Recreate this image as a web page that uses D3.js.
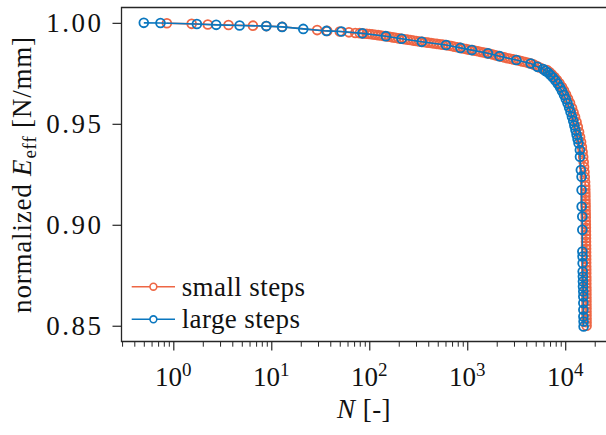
<!DOCTYPE html>
<html><head><meta charset="utf-8">
<script src="https://cdn.jsdelivr.net/npm/d3@7"></script>
<style>
body{margin:0;background:#fff}
svg{display:block;background:#fff}
text{font-family:"Liberation Serif","Times New Roman",serif;fill:#111}
</style>
</head><body>
<svg id="c" width="606" height="435"></svg>
<script>
// ---- data ----
const seriesNames = ["small steps", "large steps"];
const seriesColors = ["#EE6644", "#0A77BF"];
const xTickExps = [0, 1, 2, 3, 4];
const yTicks = [0.85, 0.90, 0.95, 1.00];

const smallN = [
  0.86, 1.54, 2.25, 3.66, 6.5, 8.9, 12.9, 29.4, 37.3, 50, 62, 72, 80, 87, 94,
  100, 107, 115, 123, 132, 141, 151, 162, 174, 186, 200, 214, 229, 245, 263, 282, 302, 324, 347, 372,
  398, 427, 457, 490, 525, 562, 603, 646, 692, 741, 794, 851, 912, 977, 1047, 1122, 1202, 1288, 1380, 1479,
  1585, 1698, 1820, 1950, 2089, 2239, 2399, 2570, 2754, 2951, 3162, 3388, 3631, 3890, 4169, 4467, 4786, 5129, 5495, 5888,
  6510, 6905, 7324, 7771, 8241, 8742, 9273, 9721, 10190, 10683, 11200, 11741, 12162, 12600, 13055, 13460, 13850,
  14180, 14520, 14797, 15040, 15257, 15437, 15583, 15731, 15843, 15956,
  16000, 16030, 16050, 16080, 16100, 16120, 16140, 16160, 16180, 16200, 16210, 16230, 16250, 16260, 16280, 16290,
  16300, 16320, 16330, 16340, 16350, 16360, 16370, 16380, 16390, 16400, 16410, 16420, 16430, 16440, 16450, 16460,
  16470, 16475, 16480, 16490, 16495, 16500, 16510, 16520, 16530
];
const smallE = [
  0.9998, 0.9995, 0.9992, 0.9989, 0.9986, 0.9984, 0.9981, 0.9964, 0.9960, 0.9957, 0.9953, 0.9950, 0.9949, 0.9947, 0.9946,
  0.9945, 0.9943, 0.9941, 0.9939, 0.9937, 0.9935, 0.9933, 0.9931, 0.9928, 0.9926, 0.9923, 0.9921, 0.9919, 0.9917, 0.9915, 0.9912, 0.9910, 0.9908, 0.9906, 0.9904,
  0.9902, 0.9900, 0.9898, 0.9896, 0.9894, 0.9892, 0.9890, 0.9888, 0.9885, 0.9882, 0.9879, 0.9876, 0.9873, 0.9870, 0.9867, 0.9865, 0.9862, 0.9859, 0.9856, 0.9853,
  0.9850, 0.9847, 0.9843, 0.9839, 0.9836, 0.9832, 0.9829, 0.9825, 0.9822, 0.9819, 0.9816, 0.9813, 0.9809, 0.9806, 0.9802, 0.9799, 0.9793, 0.9786, 0.9779, 0.9771,
  0.97661, 0.97562, 0.97448, 0.97315, 0.97166, 0.97003, 0.96820, 0.96647, 0.96449, 0.96246, 0.96029, 0.95781, 0.95559, 0.95336, 0.95084, 0.94841, 0.94594,
  0.94347, 0.94100, 0.93852, 0.93605, 0.93358, 0.93111, 0.92863, 0.92616, 0.92369, 0.92122,
  0.9192, 0.9175, 0.9158, 0.9141, 0.9123, 0.9106, 0.9089, 0.9071, 0.9054, 0.9037, 0.9019, 0.9002, 0.8985, 0.8968, 0.8950, 0.8933,
  0.8916, 0.8898, 0.8881, 0.8864, 0.8846, 0.8829, 0.8812, 0.8794, 0.8777, 0.8760, 0.8742, 0.8725, 0.8708, 0.8690, 0.8673, 0.8656,
  0.8639, 0.8621, 0.8604, 0.8587, 0.8569, 0.8552, 0.8535, 0.8517, 0.8500
];

const largeN = [
  0.5, 0.74, 1.74, 2.74, 4.75, 8.9, 12.9, 21.2, 36.5, 52, 85, 147.6, 214, 343, 608, 852, 1114, 1626, 2138, 3170, 4443, 5200, 5954,
  6283, 6664, 7069, 7499, 7955, 8400, 8845, 9273, 9721, 10142, 10558, 10965, 11332, 11713, 12078, 12396, 12719, 13055, 13366, 13686,
  14112, 14150, 14449, 14690, 14700, 14720, 14937, 14950, 14970, 15040, 15060, 15080, 15148, 15170, 15190, 15290, 15300, 15310, 15320, 15330, 15400, 15410
];
const largeE = [
  1.0000, 0.9999, 0.9994, 0.9990, 0.9987, 0.9984, 0.9980, 0.9970, 0.9960, 0.9957, 0.9948, 0.9934, 0.9921, 0.9906, 0.9890, 0.9876, 0.9865, 0.9849, 0.9835, 0.9816, 0.9799, 0.9782, 0.9771,
  0.97621, 0.97537, 0.97423, 0.97290, 0.97141, 0.96978, 0.96805, 0.96622, 0.96424, 0.96227, 0.96014, 0.95806, 0.95584, 0.95361, 0.95138, 0.94916, 0.94693, 0.94471, 0.94248, 0.94036,
  0.93704, 0.93373, 0.92715, 0.92384, 0.91726, 0.90900, 0.90405, 0.89748, 0.88675, 0.88427, 0.88101, 0.87685, 0.87438, 0.87191, 0.86944, 0.86696, 0.86449, 0.86123, 0.85791, 0.85460, 0.85213, 0.84965
];

// ---- chart ----
const svg = d3.select("#c");
const L = 121.5, R = 607, T = 7.5, B = 341.5;
const x = d3.scaleLog().domain([0.296, 26700]).range([L, R]);
const y = d3.scaleLinear().domain([0.8422, 1.0076]).range([B, T]);
const FS = 27;

const series = [
  {name: seriesNames[0], color: seriesColors[0], pts: smallN.map((n, i) => ({n, e: smallE[i]}))},
  {name: seriesNames[1], color: seriesColors[1], pts: largeN.map((n, i) => ({n, e: largeE[i]}))}
];

const line = d3.line().x(d => x(d.n)).y(d => y(d.e));
const plot = svg.append("g");
series.forEach(s => {
  const g = plot.append("g");
  g.append("path").attr("d", line(s.pts)).attr("fill", "none")
    .attr("stroke", s.color).attr("stroke-width", 1.6);
  g.selectAll("circle").data(s.pts).join("circle")
    .attr("cx", d => x(d.n)).attr("cy", d => y(d.e)).attr("r", 4.4)
    .attr("fill", "none").attr("stroke", s.color).attr("stroke-width", 1.8);
});

// frame
svg.append("path")
  .attr("d", `M${R},${T}H${L}V${B}H${R}`)
  .attr("fill", "none").attr("stroke", "#262626").attr("stroke-width", 1.3);

// x axis major ticks
const majors = xTickExps.map(e => Math.pow(10, e));
const xMajor = svg.append("g").attr("transform", `translate(0,${B})`)
  .call(d3.axisBottom(x).tickValues(majors).tickSize(9).tickFormat(""));
xMajor.select(".domain").remove();
xMajor.selectAll("line").attr("stroke", "#262626").attr("stroke-width", 1.2);

const minors = [];
[-1, 0, 1, 2, 3, 4].forEach(e => { for (let k = 2; k <= 9; k++) { const v = k * Math.pow(10, e); if (v >= 0.296 && v <= 26700) minors.push(v); } });
const xMinor = svg.append("g").attr("transform", `translate(0,${B})`)
  .call(d3.axisBottom(x).tickValues(minors).tickSize(5.2).tickFormat(""));
xMinor.select(".domain").remove();
xMinor.selectAll("line").attr("stroke", "#262626").attr("stroke-width", 1);

// x tick labels 10^k
const xl = svg.append("g");
xTickExps.forEach(e => {
  const t = xl.append("text").attr("x", x(Math.pow(10, e))).attr("y", 386)
    .attr("text-anchor", "middle").style("font-size", FS + "px");
  t.append("tspan").text("10");
  t.append("tspan").attr("dy", -10).style("font-size", "19px").text(String(e));
});

// y axis
const yAx = svg.append("g").attr("transform", `translate(${L},0)`)
  .call(d3.axisLeft(y).tickValues(yTicks).tickSize(9).tickPadding(9).tickFormat(d3.format(".2f")));
yAx.select(".domain").remove();
yAx.selectAll("line").attr("stroke", "#262626").attr("stroke-width", 1.2);
yAx.selectAll("text").style("font-size", FS + "px").style("letter-spacing", "2.5px")
  .style("font-family", '"Liberation Serif","Times New Roman",serif').attr("fill", "#111");

// axis titles
const xt = svg.append("text").attr("x", 364).attr("y", 418).attr("text-anchor", "middle")
  .style("font-size", FS + "px").style("letter-spacing", "0.5px");
xt.append("tspan").style("font-style", "italic").text("N");
xt.append("tspan").text(" [-]");

const yt = svg.append("text").attr("transform", "translate(31,174.5) rotate(-90)")
  .attr("text-anchor", "middle").style("font-size", FS + "px").style("letter-spacing", "0.8px");
yt.append("tspan").text("normalized ");
yt.append("tspan").style("font-style", "italic").text("E");
yt.append("tspan").attr("dy", 5).style("font-size", "19px").text("eff");
yt.append("tspan").attr("dy", -5).text(" [N/mm]");

// legend
const legRows = [286.7, 319.3];
series.forEach((s, i) => {
  const g = svg.append("g");
  g.append("line").attr("x1", 131.7).attr("x2", 175).attr("y1", legRows[i]).attr("y2", legRows[i])
    .attr("stroke", s.color).attr("stroke-width", 1.6);
  g.append("circle").attr("cx", 153.4).attr("cy", legRows[i]).attr("r", 3.4)
    .attr("fill", "#fff").attr("stroke", s.color).attr("stroke-width", 1.6);
  g.append("text").attr("x", 181.7).attr("y", legRows[i]).attr("dy", "0.33em")
    .style("font-size", FS + "px").style("letter-spacing", "0.4px").text(s.name);
});
</script>
</body></html>
